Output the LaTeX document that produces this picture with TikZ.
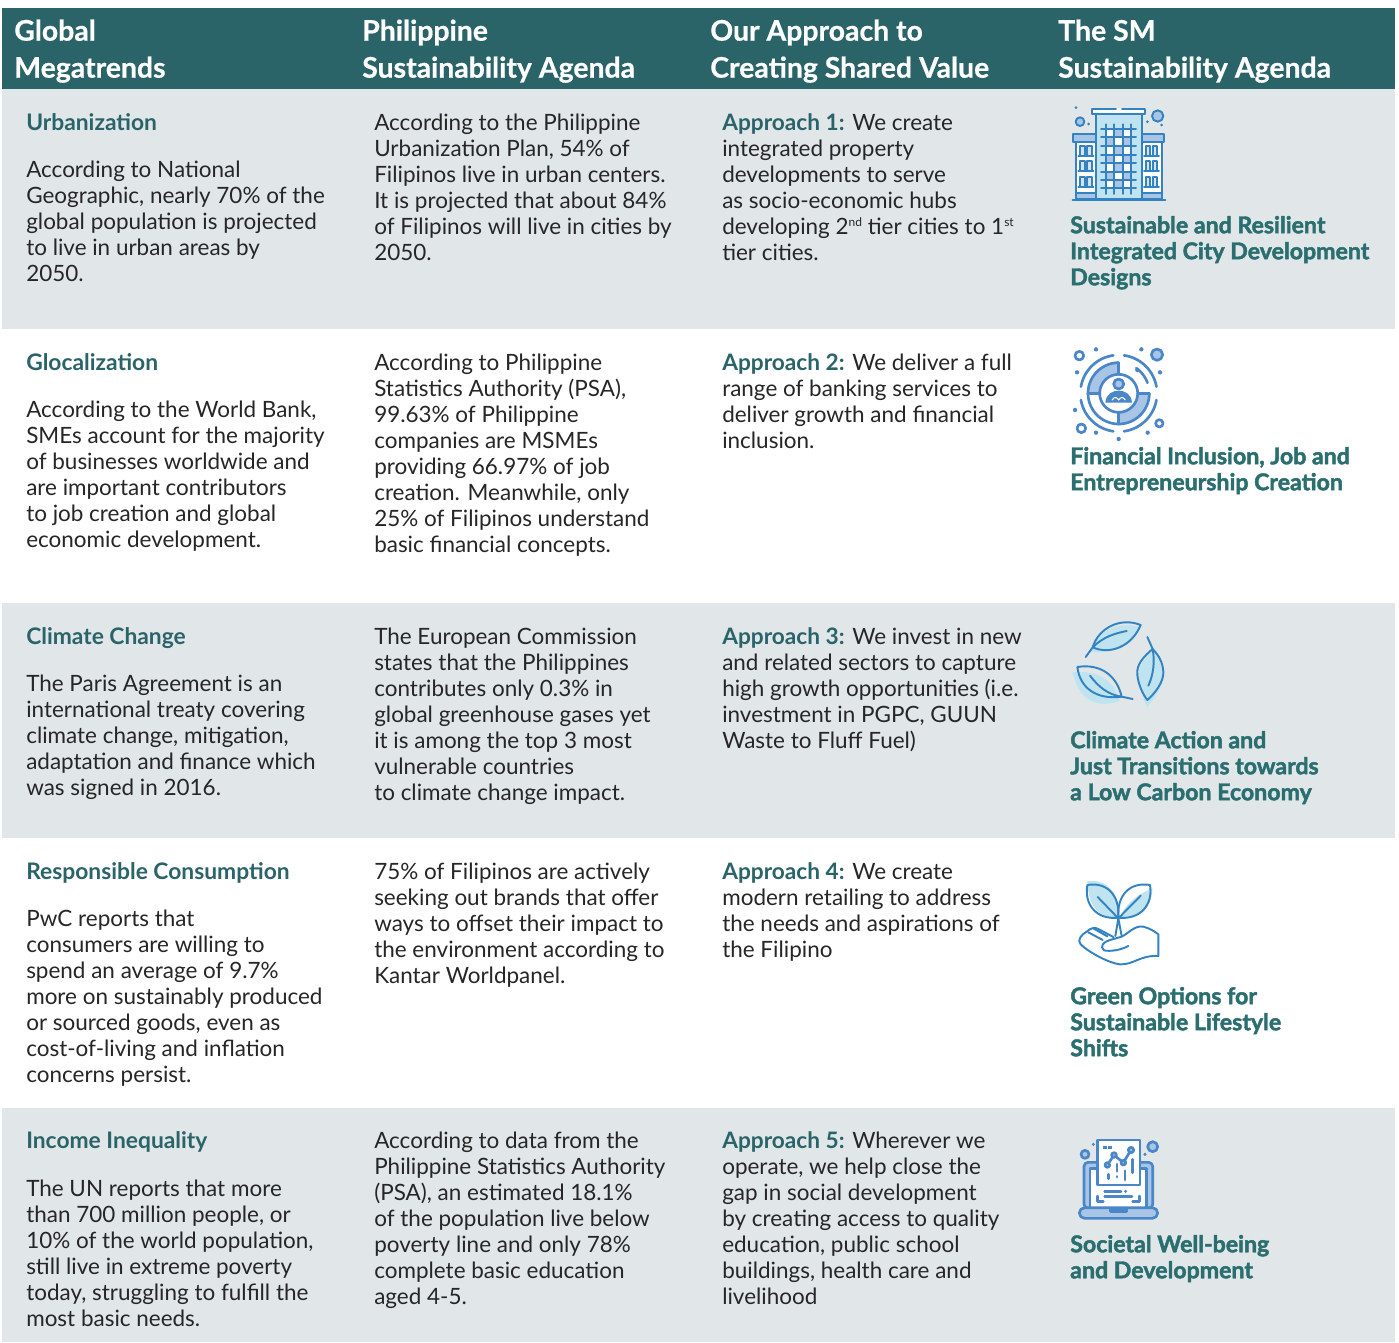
\documentclass[tikz,border=0pt]{standalone}
\usepackage{fontspec}
\setmainfont{Lato}
\newfontfamily\heavyf[FakeBold=1.9]{Lato Bold}
\newfontfamily\headf[FakeBold=0.6]{Lato Bold}
\usetikzlibrary{calc}
\definecolor{teal}{HTML}{2A6469}
\definecolor{titleteal}{HTML}{2A6E70}
\definecolor{band}{HTML}{E1E6E9}
\definecolor{ink}{HTML}{262626}
\definecolor{iblue}{HTML}{3383C2}
\definecolor{ilight}{HTML}{BFE4F0}
\definecolor{imid}{HTML}{A9C5E6}
\definecolor{iblueb}{HTML}{4A86C8}
\newcommand{\firstline}{\rule{0pt}{14pt}}
\newcommand{\appr}[1]{{\color{teal}\bfseries\fontsize{17}{19.5}\selectfont Approach #1:}}
\newcommand{\supr}[1]{\raisebox{5.5pt}{\fontsize{9}{9}\selectfont #1}}
\newcommand{\ringarc}[5]{plot[domain=#4:#5,samples=40,smooth] ({#1+#3*cos(\x)},{#2+#3*sin(\x)})}
\newcommand{\ringsector}[4]{\fill[imid] plot[domain=#3:#4,samples=30] ({176+#1*cos(\x)},{160+#1*sin(\x)}) -- plot[domain=#4:#3,samples=30] ({176+#2*cos(\x)},{160+#2*sin(\x)}) -- cycle;}
\tikzset{
 x=0.75pt,y=-0.75pt,
 hdr/.style={anchor=north west,inner sep=0,align=left,text=white,font=\headf\fontsize{21.3}{27.75}\selectfont},
 kick/.style={anchor=north west,inner sep=0,align=left,text=teal,font=\bfseries\fontsize{17.1}{19.5}\selectfont},
 body/.style={anchor=north west,inner sep=0,align=left,text=ink,font=\fontsize{16.85}{19.5}\selectfont},
 sdg/.style={anchor=north west,inner sep=0,align=left,text=titleteal,font=\heavyf\fontsize{17.35}{19.5}\selectfont},
 iconA/.style={x=0.25pt,y=-0.25pt,line width=1.45pt,draw=iblue,line cap=round,line join=round},
 iconB/.style={x=0.25pt,y=-0.25pt,line width=2pt,draw=iblueb,line cap=round,line join=round},
}
\begin{document}
\begin{tikzpicture}
\useasboundingbox (0,0) rectangle (1399,1342);
\fill[white] (0,0) rectangle (1399,1342);
\fill[teal] (2,8) rectangle (1395,89);
\fill[band] (2,89) rectangle (1395,329);
\fill[band] (2,603) rectangle (1395,838);
\fill[band] (2,1108) rectangle (1395,1342);

% header
\node[hdr] (h1) at (14,19.3) {\rule{0pt}{14pt}Global\\Megatrends};
\node[hdr] (h2) at (362,19.3) {\rule{0pt}{14pt}Philippine\\Sustainability Agenda};
\node[hdr] (h3) at (710,19.3) {\rule{0pt}{14pt}Our Approach to\\Creating Shared Value};
\node[hdr] (h4) at (1058,19.3) {\rule{0pt}{14pt}The SM\\Sustainability Agenda};

% row 1
\node[kick] (k1) at (26,111.3) {\firstline Urbanization};
\node[body] (a1) at (26,158.3) {\firstline According to National\\Geographic, nearly 70\% of the\\global population is projected\\to live in urban areas by\\2050.};
\node[body] (b1) at (374,111.3) {\firstline According to the Philippine\\Urbanization Plan, 54\% of\\Filipinos live in urban centers.\\It is projected that about 84\%\\of Filipinos will live in cities by\\2050.};
\node[body] (c1) at (722,111.3) {\firstline\appr{1} We create\\integrated property\\developments to serve\\as socio-economic hubs\\developing 2\supr{nd} tier cities to 1\supr{st}\\tier cities.};
\node[sdg] (d1) at (1070,214.3) {\firstline Sustainable and Resilient\\Integrated City Development\\Designs};

% row 2
\node[kick] (k2) at (26,351.3) {\firstline Glocalization};
\node[body] (a2) at (26,398.3) {\firstline According to the World Bank,\\SMEs account for the majority\\of businesses worldwide and\\are important contributors\\to job creation and global\\economic development.};
\node[body] (b2) at (374,351.3) {\firstline According to Philippine\\Statistics Authority (PSA),\\99.63\% of Philippine\\companies are MSMEs\\providing 66.97\% of job\\creation. Meanwhile, only\\25\% of Filipinos understand\\basic financial concepts.};
\node[body] (c2) at (722,351.3) {\firstline\appr{2} We deliver a full\\range of banking services to\\deliver growth and financial\\inclusion.};
\node[sdg] (d2) at (1070,445.3) {\firstline Financial Inclusion, Job and\\Entrepreneurship Creation};

% row 3
\node[kick] (k3) at (26,625.3) {\firstline Climate Change};
\node[body] (a3) at (26,672.3) {\firstline The Paris Agreement is an\\international treaty covering\\climate change, mitigation,\\adaptation and finance which\\was signed in 2016.};
\node[body] (b3) at (374,625.3) {\firstline The European Commission\\states that the Philippines\\contributes only 0.3\% in\\global greenhouse gases yet\\it is among the top 3 most\\vulnerable countries\\to climate change impact.};
\node[body] (c3) at (722,625.3) {\firstline\appr{3} We invest in new\\and related sectors to capture\\high growth opportunities (i.e.\\investment in PGPC, GUUN\\Waste to Fluff Fuel)};
\node[sdg] (d3) at (1070,729.3) {\firstline Climate Action and\\Just Transitions towards\\a Low Carbon Economy};

% row 4
\node[kick] (k4) at (26,860.3) {\firstline Responsible Consumption};
\node[body] (a4) at (26,907.3) {\firstline PwC reports that\\consumers are willing to\\spend an average of 9.7\%\\more on sustainably produced\\or sourced goods, even as\\cost-of-living and inflation\\concerns persist.};
\node[body] (b4) at (374,860.3) {\firstline 75\% of Filipinos are actively\\seeking out brands that offer\\ways to offset their impact to\\the environment according to\\Kantar Worldpanel.};
\node[body] (c4) at (722,860.3) {\firstline\appr{4} We create\\modern retailing to address\\the needs and aspirations of\\the Filipino};
\node[sdg] (d4) at (1070,985.3) {\firstline Green Options for\\Sustainable Lifestyle\\Shifts};

% row 5
\node[kick] (k5) at (26,1129.3) {\firstline Income Inequality};
\node[body] (a5) at (26,1177.3) {\firstline The UN reports that more\\than 700 million people, or\\10\% of the world population,\\still live in extreme poverty\\today, struggling to fulfill the\\most basic needs.};
\node[body] (b5) at (374,1129.3) {\firstline According to data from the\\Philippine Statistics Authority\\(PSA), an estimated 18.1\%\\of the population live below\\poverty line and only 78\%\\complete basic education\\aged 4-5.};
\node[body] (c5) at (722,1129.3) {\firstline\appr{5} Wherever we\\operate, we help close the\\gap in social development\\by creating access to quality\\education, public school\\buildings, health care and\\livelihood};
\node[sdg] (d5) at (1070,1233.3) {\firstline Societal Well-being\\and Development};

% icon 1: building
\begin{scope}[shift={(1060,95)},iconA]
 \filldraw[fill=ilight] (108,58) rectangle (245,313);
 \fill[white] (138,101) rectangle (213,280);
 \foreach \cx/\cy in {163/101,138/127,188/127,163/153,138/179,188/179,163/205,138/230,188/230,163/255}
   \fill[imid] (\cx,\cy) rectangle +(25,25);
 \foreach \vx in {138,163,188,213} \draw (\vx,88) -- (\vx,297);
 \foreach \hy in {101,127,153,179,205,230,255,280} \draw (123,\hy) -- (228,\hy);
 \fill[white] (93,40) rectangle (258,58);
 \draw (168,41) -- (95,41) -- (95,57) -- (256,57) -- (256,41) -- (186,41);
 \filldraw[fill=imid] (40,117) rectangle (108,140);
 \filldraw[fill=white] (47,140) rectangle (108,295);
 \filldraw[fill=imid] (47,295) rectangle (108,313);
 \filldraw[fill=imid] (245,117) rectangle (312,140);
 \filldraw[fill=white] (245,140) rectangle (305,295);
 \filldraw[fill=imid] (245,295) rectangle (305,313);
 \foreach \wy in {152,198,246} {
   \foreach \wx in {60,81,257,278} \filldraw[fill=imid!50!white] (\wx,\wy) rectangle +(14,30);
   \draw (55,\wy+31) -- (100,\wy+31);
   \draw (252,\wy+31) -- (297,\wy+31);
 }
 \draw (38,314) -- (316,314);
 \filldraw[fill=imid] (60,80) circle[radius=13];
 \filldraw[fill=imid] (293,63) circle[radius=17];
 \foreach \dx/\dy in {48/38,86/87,262/80,305/90} \fill[iblue] (\dx,\dy) circle[radius=4.5];
\end{scope}

% icon 2: person and rings
\begin{scope}[shift={(1060,340)},iconB]
 \ringsector{92}{57}{180}{270}
 \ringsector{92}{57}{0}{90}
 \draw \ringarc{176}{160}{92}{90}{270};
 \draw \ringarc{176}{160}{92}{0}{90};
 \draw \ringarc{176}{160}{92}{-55}{-20};
 \draw \ringarc{176}{160}{57}{0}{360};
 \draw (176,68) -- (176,103);
 \draw (176,217) -- (176,252);
 \draw (84,160) -- (119,160);
 \draw (233,160) -- (268,160);
 \draw \ringarc{176}{160}{115}{-82}{-10};
 \draw \ringarc{176}{160}{115}{10}{82};
 \draw \ringarc{176}{160}{115}{98}{170};
 \draw \ringarc{176}{160}{115}{190}{262};
 \filldraw[fill=imid] (176,132) circle[radius=15];
 \fill[iblueb] (136,188) .. controls (138,160) and (160,152) .. (176,152) .. controls (192,152) and (214,160) .. (216,188) -- cycle;
 \draw[white,line width=0.8pt] (156,180) .. controls (165,168) and (170,172) .. (176,180) .. controls (182,172) and (187,168) .. (196,180);
 \filldraw[fill=white] (58,47) circle[radius=13];
 \filldraw[fill=imid] (291,44) circle[radius=17];
 \filldraw[fill=white] (64,265) circle[radius=13];
 \filldraw[fill=white] (298,250) circle[radius=11];
 \foreach \dx/\dy in {108/28,244/28,51/97,300/97,232/90,45/210,108/278,263/278,176/297} \fill[iblueb] (\dx,\dy) circle[radius=6.5];
\end{scope}

% icon 3: three leaves
\begin{scope}[shift={(1060,615)},iconA]
 \fill[ilight] (92,110) .. controls (115,40) and (180,20) .. (242,36) .. controls (215,100) and (150,118) .. cycle;
 \fill[ilight] (278,102) .. controls (250,130) and (225,170) .. (236,210) .. controls (245,240) and (255,265) .. (262,278) .. controls (275,255) and (318,210) .. (310,170) .. controls (305,140) and (295,120) .. cycle;
 \fill[ilight] (38,172) .. controls (115,165) and (160,195) .. (180,258) .. controls (130,275) and (60,275) .. cycle;
 \draw (77,126) -- (98,97) .. controls (115,40) and (180,5) .. (242,30) .. controls (215,95) and (150,120) .. (98,97);
 \draw (98,97) .. controls (130,65) and (165,55) .. (200,48);
 \draw (262,66) -- (278,102) .. controls (250,125) and (228,150) .. (232,180) .. controls (235,210) and (250,240) .. (262,255) .. controls (285,235) and (312,200) .. (310,170) .. controls (308,140) and (295,120) .. (278,102);
 \draw (278,102) .. controls (285,140) and (280,180) .. (265,212);
 \draw (52,156) .. controls (120,145) and (170,180) .. (185,245) .. controls (110,255) and (60,220) .. (52,156);
 \draw (90,182) .. controls (115,215) and (145,240) .. (185,245) -- (218,252);
\end{scope}

% icon 4: hand and sprout
\begin{scope}[shift={(1060,875)},iconA]
 \fill[ilight] (82,18) .. controls (140,12) and (178,50) .. (178,128) .. controls (110,130) and (85,90) .. cycle;
 \fill[ilight] (278,40) .. controls (270,110) and (240,130) .. (180,128) .. controls (190,95) and (225,60) .. cycle;
 \draw (82,30) .. controls (140,20) and (180,60) .. (175,128) .. controls (110,135) and (72,90) .. (82,30);
 \draw (270,30) .. controls (210,20) and (170,60) .. (175,128) .. controls (240,135) and (280,90) .. (270,30);
 \draw (113,66) -- (175,130) -- (242,62);
 \draw (166,183) -- (175,130) -- (185,183);
 \draw (205,213) .. controls (180,226) and (150,230) .. (132,226) .. controls (118,215) and (130,200) .. (150,195) -- (185,185) .. controls (205,175) and (225,150) .. (250,155) .. controls (270,160) and (285,170) .. (295,178) -- (295,243) .. controls (240,240) and (220,270) .. (180,268) .. controls (150,265) and (90,235) .. (62,208) .. controls (50,195) and (65,178) .. (80,170) .. controls (90,160) and (105,155) .. (115,162) -- (160,186);
 \draw (85,172) -- (128,195);
 \draw (100,160) -- (142,184);
\end{scope}

% icon 5: laptop with report
\begin{scope}[shift={(1060,1130)},iconB]
 \filldraw[fill=imid,rounded corners=3pt] (72,97) -- (278,97) -- (278,235) -- (72,235) -- cycle;
 \filldraw[fill=white] (90,115) -- (260,115) -- (260,235) -- (90,235) -- cycle;
 \filldraw[fill=imid,rounded corners=4pt] (58,233) rectangle (293,265);
 \filldraw[fill=white] (152,235) -- (152,245) -- (200,245) -- (200,235) -- cycle;
 \filldraw[fill=white] (112,30) rectangle (240,165);
 \fill[iblueb] (130,48) rectangle (142,58);
 \fill[iblueb] (145,48) rectangle (157,58);
 \draw (142,105) -- (162,75) -- (190,98) -- (213,60);
 \filldraw[fill=imid] (142,105) circle[radius=7];
 \filldraw[fill=imid] (162,75) circle[radius=7];
 \filldraw[fill=imid] (190,98) circle[radius=7];
 \filldraw[fill=imid] (213,60) circle[radius=8];
 \draw (146,133) -- (146,146);
 \draw (171,102) -- (171,124);
 \draw (171,139) -- (171,141);
 \draw (195,122) -- (195,150);
 \draw (218,88) -- (218,128);
 \draw (134,184) -- (183,184);
 \fill[iblueb] (197,184) circle[radius=5];
 \draw (134,199) -- (216,199);
 \draw (112,198) -- (112,215) -- (130,215);
 \draw (238,198) -- (238,215) -- (218,215);
 \filldraw[fill=imid] (75,73) circle[radius=12];
 \filldraw[fill=imid] (278,50) circle[radius=15];
 \fill[iblueb] (100,43) circle[radius=5];
 \fill[iblueb] (255,73) circle[radius=5];
\end{scope}
\end{tikzpicture}
\end{document}
